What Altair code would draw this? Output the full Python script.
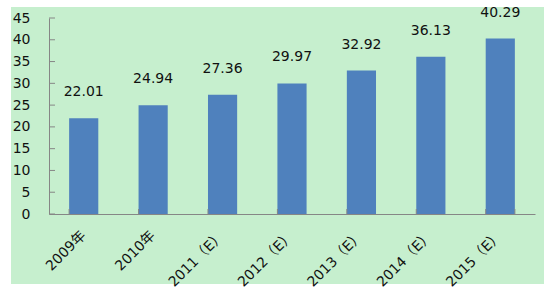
import altair as alt
import pandas as pd

categories = ["2009年", "2010年", "2011（E）", "2012（E）", "2013（E）", "2014（E）", "2015（E）"]
values = [22.01, 24.94, 27.36, 29.97, 32.92, 36.13, 40.29]
y_ticks = [0, 5, 10, 15, 20, 25, 30, 35, 40, 45]

df = pd.DataFrame({"cat": categories, "val": values, "label": [f"{v:.2f}" for v in values]})
tick_df = pd.DataFrame({"val": y_ticks})
last_df = pd.DataFrame({"cat": [categories[-1]]})

W, H = 486, 196
FONT = "DejaVu Sans"
XFONT = "DejaVu Sans, Noto Sans CJK SC"
xscale = alt.Scale(domain=categories, paddingInner=0.58, paddingOuter=0.29)
yscale = alt.Scale(domain=[0, 45], nice=False)

xaxis = alt.Axis(title=None, labelAngle=-45, labelAlign="right", labelBaseline="middle",
                 labelPadding=19, ticks=False, domainColor="#868686", labelFont=XFONT,
                 labelFontSize=14, labelColor="#111111", labelOverlap=False, zindex=1)
yaxis = alt.Axis(title=None, values=y_ticks, ticks=False, grid=False, labelPadding=19,
                 domainColor="#868686", labelFont=FONT, labelFontSize=14,
                 labelOverlap=False, labelFlush=False, labelColor="#111111", zindex=1)

bg = alt.Chart(df).mark_rect(color="#C6EFCE", clip=False).encode(
    x=alt.value(-38), x2=alt.value(495), y=alt.value(-11), y2=alt.value(266)
)

base = alt.Chart(df)
bars = base.mark_bar(color="#4F81BD").encode(
    x=alt.X("cat:N", scale=xscale, sort=categories, axis=xaxis),
    y=alt.Y("val:Q", scale=yscale, axis=yaxis),
)
text = base.mark_text(font=FONT, fontSize=14, color="#111111", baseline="bottom", dy=-19).encode(
    x=alt.X("cat:N", scale=xscale, sort=categories, axis=xaxis),
    y=alt.Y("val:Q", scale=yscale, axis=yaxis),
    text="label:N",
)
yt = alt.Chart(tick_df).mark_rule(color="#868686").encode(
    y=alt.Y("val:Q", scale=yscale, axis=yaxis), x=alt.value(0), x2=alt.value(6)
)
xt = base.mark_rule(color="#868686").encode(
    x=alt.X("cat:N", scale=xscale, sort=categories, bandPosition=0, axis=xaxis),
    y=alt.value(H), y2=alt.value(H - 5),
)
xt_last = alt.Chart(last_df).mark_rule(color="#868686").encode(
    x=alt.X("cat:N", scale=xscale, sort=categories, bandPosition=1, axis=xaxis),
    y=alt.value(H), y2=alt.value(H - 5),
)

chart = alt.layer(bg, bars, text, yt, xt, xt_last).properties(
    width=W, height=H,
    autosize=alt.AutoSizeParams(type="none"),
    padding={"left": 49, "top": 18, "right": 9, "bottom": 79},
    background="white",
).configure_view(stroke=None).configure_axis(grid=False)

chart.save("out.html", embed_options={"renderer": "svg", "actions": False})
